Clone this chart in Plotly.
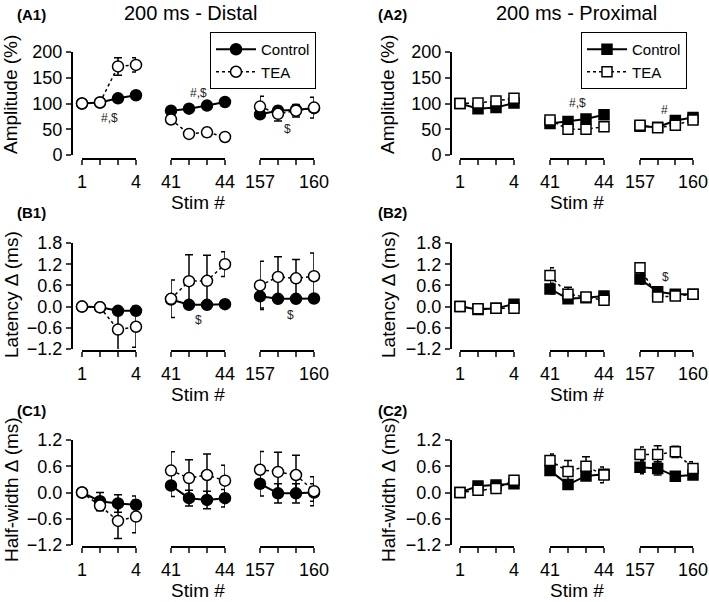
import plotly.graph_objects as go

W, H = 709, 602

# ---------------- data ----------------
stim_groups = [[1, 2, 3, 4], [41, 42, 43, 44], [157, 158, 159, 160]]
stim_tick_text = [["1", "", "", "4"], ["41", "", "", "44"], ["157", "", "", "160"]]
series_names = ["Control", "TEA"]

# Amplitude (%) - distal
amp_dist_ctrl = [100, 102, 110, 116, 86, 90, 96, 103, 79, 86, 88, 91]
amp_dist_ctrl_err = [0, 3, 5, 5, 4, 4, 5, 4, 6, 6, 6, 6]
amp_dist_tea = [100, 102, 172, 175, 69, 41, 44, 35, 94, 80, 86, 92]
amp_dist_tea_err = [0, 4, 17, 14, 4, 5, 8, 5, 20, 14, 12, 20]
# Amplitude (%) - proximal
amp_prox_ctrl = [100, 90, 92, 101, 61, 65, 70, 78, 56, 54, 67, 73]
amp_prox_ctrl_err = [0, 4, 4, 4, 5, 5, 5, 4, 5, 4, 5, 5]
amp_prox_tea = [100, 101, 105, 110, 68, 50, 50, 55, 58, 53, 58, 68]
amp_prox_tea_err = [0, 5, 5, 6, 6, 5, 5, 5, 6, 5, 5, 6]
# Latency delta (ms) - distal
lat_dist_ctrl = [0.0, -0.02, -0.12, -0.12, 0.2, 0.05, 0.05, 0.07, 0.29, 0.22, 0.22, 0.23]
lat_dist_ctrl_err = [0.0, 0.05, 0.08, 0.08, 0.1, 0.06, 0.06, 0.06, 0.33, 0.08, 0.08, 0.08]
lat_dist_tea = [0.0, -0.02, -0.65, -0.57, 0.22, 0.72, 0.73, 1.2, 0.6, 0.84, 0.8, 0.86]
lat_dist_tea_err = [0.0, 0.06, 0.6, 0.58, 0.53, 0.75, 0.72, 0.35, 0.68, 0.57, 0.53, 0.66]
# Latency delta (ms) - proximal
lat_prox_ctrl = [0.0, -0.08, -0.05, 0.07, 0.5, 0.22, 0.25, 0.3, 0.78, 0.42, 0.35, 0.35]
lat_prox_ctrl_err = [0.0, 0.05, 0.05, 0.05, 0.14, 0.08, 0.06, 0.06, 0.15, 0.06, 0.06, 0.06]
lat_prox_tea = [0.0, -0.06, -0.05, -0.05, 0.88, 0.35, 0.27, 0.18, 1.1, 0.27, 0.3, 0.35]
lat_prox_tea_err = [0.0, 0.07, 0.07, 0.08, 0.22, 0.2, 0.06, 0.08, 0.1, 0.08, 0.07, 0.07]
# Half-width delta (ms) - distal
hw_dist_ctrl = [0.0, -0.2, -0.25, -0.28, 0.16, -0.13, -0.17, -0.13, 0.2, -0.02, -0.02, 0.0]
hw_dist_ctrl_err = [0.0, 0.2, 0.2, 0.2, 0.25, 0.18, 0.2, 0.2, 0.28, 0.22, 0.22, 0.2]
hw_dist_tea = [0.0, -0.3, -0.65, -0.55, 0.5, 0.33, 0.4, 0.27, 0.52, 0.47, 0.4, 0.03]
hw_dist_tea_err = [0.0, 0.12, 0.4, 0.37, 0.43, 0.42, 0.48, 0.35, 0.42, 0.45, 0.45, 0.33]
# Half-width delta (ms) - proximal
hw_prox_ctrl = [0.0, 0.15, 0.17, 0.2, 0.5, 0.18, 0.38, 0.42, 0.58, 0.55, 0.37, 0.4]
hw_prox_ctrl_err = [0.0, 0.04, 0.04, 0.04, 0.1, 0.08, 0.1, 0.1, 0.15, 0.15, 0.08, 0.1]
hw_prox_tea = [0.0, 0.05, 0.09, 0.28, 0.73, 0.48, 0.6, 0.4, 0.87, 0.87, 0.93, 0.55]
hw_prox_tea_err = [0.0, 0.04, 0.04, 0.05, 0.15, 0.25, 0.22, 0.18, 0.17, 0.2, 0.13, 0.15]

amp_ticks = [0, 50, 100, 150, 200]
lat_ticks = [-1.2, -0.6, 0.0, 0.6, 1.2, 1.8]
hw_ticks = [-1.2, -0.6, 0.0, 0.6, 1.2]

FONT = "Arial, Liberation Sans, Helvetica, sans-serif"
TICK_SIZE = 18
TITLE_SIZE = 19


def fx(px):
    return px / W


def fy(py):
    return 1 - py / H


# layout geometry (pixels)
col_yaxis_x = [72, 451]
col_ytitle_x = [11, 388]
col_group_x = [[(82, 136), (171, 225), (260, 314)], [(460, 514), (550, 604), (640, 693)]]
row_y_dom = [(52, 155), (243, 349), (440, 545)]
row_ytitle_y = [95, 295, 490]
row_xline_y = [159, 351, 547]
row_label_y = [14, 213, 410]

panels = [
    dict(row=0, col=0, label="(A1)", ctrl=amp_dist_ctrl, ce=amp_dist_ctrl_err, tea=amp_dist_tea, te=amp_dist_tea_err,
         title="Amplitude (%)", rng=[0, 200], ticks=amp_ticks, fmt="d", sym="circle"),
    dict(row=0, col=1, label="(A2)", ctrl=amp_prox_ctrl, ce=amp_prox_ctrl_err, tea=amp_prox_tea, te=amp_prox_tea_err,
         title="Amplitude (%)", rng=[0, 200], ticks=amp_ticks, fmt="d", sym="square"),
    dict(row=1, col=0, label="(B1)", ctrl=lat_dist_ctrl, ce=lat_dist_ctrl_err, tea=lat_dist_tea, te=lat_dist_tea_err,
         title="Latency Δ (ms)", rng=[-1.2, 1.8], ticks=lat_ticks, fmt=".1f", sym="circle"),
    dict(row=1, col=1, label="(B2)", ctrl=lat_prox_ctrl, ce=lat_prox_ctrl_err, tea=lat_prox_tea, te=lat_prox_tea_err,
         title="Latency Δ (ms)", rng=[-1.2, 1.8], ticks=lat_ticks, fmt=".1f", sym="square"),
    dict(row=2, col=0, label="(C1)", ctrl=hw_dist_ctrl, ce=hw_dist_ctrl_err, tea=hw_dist_tea, te=hw_dist_tea_err,
         title="Half-width Δ (ms)", rng=[-1.2, 1.2], ticks=hw_ticks, fmt=".1f", sym="circle"),
    dict(row=2, col=1, label="(C2)", ctrl=hw_prox_ctrl, ce=hw_prox_ctrl_err, tea=hw_prox_tea, te=hw_prox_tea_err,
         title="Half-width Δ (ms)", rng=[-1.2, 1.2], ticks=hw_ticks, fmt=".1f", sym="square"),
]

# significance marks: (panel index, group index, x, y, text)
sig_marks = [
    (0, 0, 2.5, 72, "#,$"),
    (0, 1, 42.5, 120, "#,$"),
    (0, 2, 158.55, 50, "$"),
    (1, 1, 42.55, 101, "#,$"),
    (1, 2, 158.4, 87, "#"),
    (2, 1, 42.55, -0.38, "$"),
    (2, 2, 158.7, -0.24, "$"),
    (3, 2, 158.45, 0.84, "$"),
]

fig = go.Figure()
layout = dict(
    width=W, height=H,
    margin=dict(l=0, r=0, t=0, b=0, autoexpand=False),
    paper_bgcolor="white", plot_bgcolor="white",
    font=dict(family=FONT, size=TICK_SIZE, color="black"),
    showlegend=True,
)
annotations = []


def xname(k):
    return "x" if k == 1 else f"x{k}"


def yname(k):
    return "y" if k == 1 else f"y{k}"


for p, pan in enumerate(panels):
    r, c = pan["row"], pan["col"]
    yk = p + 1
    y0, y1 = row_y_dom[r]
    layout["yaxis" if yk == 1 else f"yaxis{yk}"] = dict(
        domain=[fy(y1), fy(y0)], range=pan["rng"], anchor="free", position=fx(col_yaxis_x[c]),
        tickvals=pan["ticks"], tickformat=pan["fmt"], ticks="outside", ticklen=5, tickwidth=2,
        showline=True, linewidth=2, linecolor="black", showgrid=False, zeroline=False,
        tickfont=dict(size=TICK_SIZE), automargin=False,
    )
    annotations.append(dict(text=pan["title"], xref="paper", yref="paper", x=fx(col_ytitle_x[c]),
                            y=fy(row_ytitle_y[r]), textangle=-90, xanchor="center", yanchor="middle",
                            showarrow=False, font=dict(size=TITLE_SIZE)))
    for g in range(3):
        xk = 3 * p + g + 1
        gx0, gx1 = col_group_x[c][g]
        xa = dict(
            domain=[fx(gx0), fx(gx1)], range=[stim_groups[g][0], stim_groups[g][-1]],
            anchor="free", position=fy(row_xline_y[r]),
            tickvals=stim_groups[g], ticktext=stim_tick_text[g], ticks="outside", ticklen=5, tickwidth=2,
            showline=True, linewidth=2, linecolor="black", showgrid=False, zeroline=False,
            tickfont=dict(size=TICK_SIZE), ticklabelstandoff=1, automargin=False,
        )
        if g == 1:
            xa["title"] = dict(text="Stim #", font=dict(size=TITLE_SIZE), standoff=2)
        layout["xaxis" if xk == 1 else f"xaxis{xk}"] = xa
        sl = slice(4 * g, 4 * g + 4)
        for s, (vals, errs) in enumerate([(pan["ctrl"], pan["ce"]), (pan["tea"], pan["te"])]):
            show = (r == 0 and g == 0)
            fig.add_trace(go.Scatter(
                x=stim_groups[g], y=vals[sl], xaxis=xname(xk), yaxis=yname(yk),
                mode="lines+markers", name=series_names[s],
                line=dict(color="black", width=2 if s == 0 else 1.5, dash="solid" if s == 0 else "dot"),
                marker=dict(symbol=pan["sym"], size=11 if pan["sym"] == "circle" else 10,
                            color="black" if s == 0 else "white",
                            line=dict(color="black", width=1.5)),
                error_y=dict(type="data", array=errs[sl], color="black", thickness=1.5, width=4, visible=True),
                cliponaxis=False,
                showlegend=show, legend="legend" if c == 0 else "legend2",
                legendgroup=f"{c}-{s}",
            ))
    annotations.append(dict(text=f"<b>{pan['label']}</b>", xref="paper", yref="paper",
                            x=fx(15 + c * 361), y=fy(row_label_y[r]), xanchor="left", yanchor="middle",
                            showarrow=False, font=dict(size=15)))

for (p, g, x, y, t) in sig_marks:
    annotations.append(dict(text=t, xref=xname(3 * p + g + 1), yref=yname(p + 1), x=x, y=y,
                            showarrow=False, font=dict(size=12, color="#222")))

annotations.append(dict(text="200 ms - Distal", xref="paper", yref="paper", x=fx(190), y=fy(13),
                        xanchor="center", yanchor="middle", showarrow=False, font=dict(size=20)))
annotations.append(dict(text="200 ms - Proximal", xref="paper", yref="paper", x=fx(576), y=fy(13),
                        xanchor="center", yanchor="middle", showarrow=False, font=dict(size=20)))

leg_common = dict(xanchor="left", yanchor="top", bordercolor="black", borderwidth=1, bgcolor="white",
                  font=dict(size=15), tracegroupgap=0, itemwidth=40)
layout["legend"] = dict(x=fx(210), y=fy(32), **leg_common)
layout["legend2"] = dict(x=fx(581), y=fy(32), **leg_common)
layout["annotations"] = annotations

fig.update_layout(**layout)
fig.write_html(
    "out.html",
    config={"displayModeBar": False},
    post_script="document.body.style.margin='0';document.body.style.overflow='hidden';",
)
